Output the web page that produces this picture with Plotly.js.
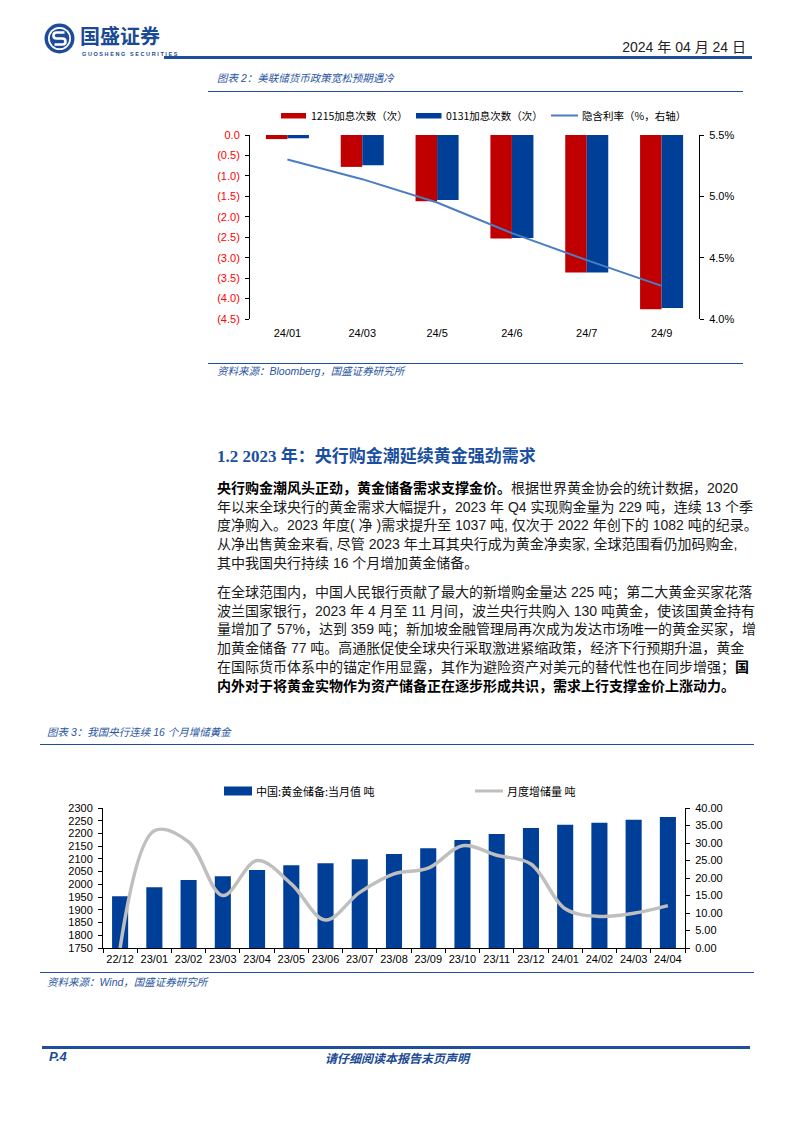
<!DOCTYPE html>
<html><head><meta charset="utf-8">
<script src="https://cdn.plot.ly/plotly-3.0.1.min.js"></script>
<style>
body{margin:0;background:#fff;}
#page{position:relative;width:794px;height:1123px;overflow:hidden;background:#fff;font-family:"Liberation Sans","Noto Sans CJK SC",sans-serif;color:#111;}
.abs{position:absolute;white-space:nowrap;}
.rule{position:absolute;background:#1F4E9A;}
.cap{position:absolute;white-space:nowrap;font-style:italic;color:#2A56A0;font-size:10.5px;line-height:12px;}
.ln{position:absolute;left:217px;width:533px;font-size:14px;line-height:18px;height:18px;white-space:nowrap;color:#1a1a1a;}
.ln b{font-weight:bold;color:#000;}
</style>
</head><body>
<div id="page">
  <!-- header -->
  <svg class="abs" style="left:44px;top:23px" width="31" height="31" viewBox="0 0 31 31">
    <circle cx="15.5" cy="15.5" r="15" fill="#1E4C9A"/>
    <circle cx="15.5" cy="15.5" r="11.5" fill="#fff"/>
    <circle cx="15.5" cy="15.5" r="9.8" fill="#1E4C9A"/>
    <path d="M20.5 9.5 H12.5 Q9.5 9.5 9.5 12.5 Q9.5 15.5 12.5 15.5 H18.5 Q21.5 15.5 21.5 18.5 Q21.5 21.5 18.5 21.5 H10.5" stroke="#fff" stroke-width="2.6" fill="none"/>
  </svg>
  <div class="abs" style="left:80px;top:26px;font-size:20px;line-height:20px;font-weight:bold;color:#1A4A94;font-family:'Noto Sans CJK SC'">国盛证券</div>
  <div class="abs" style="left:82px;top:50.5px;font-size:5.5px;line-height:6px;letter-spacing:1.6px;color:#1A4A94;font-weight:bold">GUOSHENG SECURITIES</div>
  <div class="abs" style="right:48px;top:38px;font-size:14px;line-height:18px;color:#222">2024 年 04 月 24 日</div>
  <div class="rule" style="left:164px;top:56px;width:588px;height:2.5px"></div>

  <!-- chart 2 header -->
  <div class="cap" style="left:217px;top:72px">图表 2：美联储货币政策宽松预期遇冷</div>
  <div class="rule" style="left:208px;top:90.5px;width:535px;height:1.3px"></div>
  <div id="chart1" class="abs" style="left:200px;top:95px;width:560px;height:260px"></div>
  <div class="rule" style="left:208px;top:362.5px;width:535px;height:1.3px"></div>
  <div class="cap" style="left:217px;top:365px">资料来源：Bloomberg，国盛证券研究所</div>

  <!-- section -->
  <div class="abs" style="left:217px;top:446px;font-size:17px;line-height:22px;font-weight:bold;color:#1A4FA0;font-family:'Liberation Serif','Noto Sans CJK SC'">1.2 2023 年：央行购金潮延续黄金强劲需求</div>

  <div class="ln jl" style="top:479px"><span><b>央行购金潮风头正劲，黄金储备需求支撑金价。</b>根据世界黄金协会的统计数据，2020</span></div>
  <div class="ln jl" style="top:497.7px"><span>年以来全球央行的黄金需求大幅提升，2023 年 Q4 实现购金量为 229 吨，连续 13 个季</span></div>
  <div class="ln jl" style="top:516.4px"><span>度净购入。2023 年度( 净 )需求提升至 1037 吨, 仅次于 2022 年创下的 1082 吨的纪录。</span></div>
  <div class="ln jl" style="top:535.1px"><span>从净出售黄金来看, 尽管 2023 年土耳其央行成为黄金净卖家, 全球范围看仍加码购金,</span></div>
  <div class="ln" style="top:553.8px"><span>其中我国央行持续 16 个月增加黄金储备。</span></div>

  <div class="ln jl" style="top:583px"><span>在全球范围内，中国人民银行贡献了最大的新增购金量达 225 吨；第二大黄金买家花落</span></div>
  <div class="ln jl" style="top:601.7px"><span>波兰国家银行，2023 年 4 月至 11 月间，波兰央行共购入 130 吨黄金，使该国黄金持有</span></div>
  <div class="ln jl" style="top:620.4px"><span>量增加了 57%，达到 359 吨；新加坡金融管理局再次成为发达市场唯一的黄金买家，增</span></div>
  <div class="ln jl" style="top:639.1px"><span>加黄金储备 77 吨。高通胀促使全球央行采取激进紧缩政策，经济下行预期升温，黄金</span></div>
  <div class="ln jl" style="top:657.8px"><span>在国际货币体系中的锚定作用显露，其作为避险资产对美元的替代性也在同步增强；<b>国</b></span></div>
  <div class="ln jl" style="top:676.5px"><span><b>内外对于将黄金实物作为资产储备正在逐步形成共识，需求上行支撑金价上涨动力。</b></span></div>

  <!-- chart 3 header -->
  <div class="cap" style="left:47px;top:726px">图表 3：我国央行连续 16 个月增储黄金</div>
  <div class="rule" style="left:40px;top:743.5px;width:714px;height:1.3px"></div>
  <div id="chart2" class="abs" style="left:40px;top:765px;width:714px;height:205px"></div>
  <div class="rule" style="left:40px;top:971.5px;width:714px;height:1.3px"></div>
  <div class="cap" style="left:47px;top:976px">资料来源：Wind，国盛证券研究所</div>

  <!-- footer -->
  <div class="rule" style="left:42px;top:1046px;width:708px;height:2.5px"></div>
  <div class="abs" style="left:49px;top:1049px;font-size:13px;line-height:16px;font-weight:bold;font-style:italic;color:#1A4A94">P.4</div>
  <div class="abs" style="left:0;width:794px;text-align:center;top:1050px;font-size:12px;line-height:15px;font-weight:bold;font-style:italic;color:#1A4A94;font-family:'Noto Sans CJK SC'">请仔细阅读本报告末页声明</div>
</div>
<script>
// ---------- Chart 1 data ----------
const cats1 = ['24/01','24/03','24/5','24/6','24/7','24/9'];
const hikes1215 = [-0.10,-0.78,-1.62,-2.53,-3.36,-4.26];
const hikes0131 = [-0.08,-0.74,-1.59,-2.52,-3.36,-4.23];
const impliedRate = [5.30,5.14,4.95,4.70,4.48,4.27];
const leftTickVals1 = [0,-0.5,-1,-1.5,-2,-2.5,-3,-3.5,-4,-4.5];
const leftTickText1 = ['0.0','(0.5)','(1.0)','(1.5)','(2.0)','(2.5)','(3.0)','(3.5)','(4.0)','(4.5)'];
const rightTickVals1 = [5.5,5.0,4.5,4.0];
const rightTickText1 = ['5.5%','5.0%','4.5%','4.0%'];
const legend1 = ['1215加息次数（次）','0131加息次数（次）','隐含利率（%，右轴）'];

// ---------- Chart 2 data ----------
const cats2 = ['22/12','23/01','23/02','23/03','23/04','23/05','23/06','23/07','23/08','23/09','23/10','23/11','23/12','24/01','24/02','24/03','24/04'];
const goldReserve = [1953,1989,2017,2032,2056,2075,2083,2099,2119,2142,2174,2198,2221,2234,2242,2254,2265];
const monthlyAdd = [0,33.5,30.3,15.0,25.0,18.3,8.0,15.9,21.2,22.8,29.2,26.5,24.0,11.2,9.0,9.9,12.1];
const legend2 = ['中国:黄金储备:当月值 吨','月度增储量 吨'];

const RED='#C00000', BLUE='#003F98', LBLUE='#4A7DC4', GRAY='#BFBFBF';
const latin = 'Liberation Sans, Noto Sans CJK SC, sans-serif';
const cjk = 'Noto Sans CJK SC, Liberation Sans, sans-serif';

// chart 1 plot area in page px: x 250..699, y 135..319
function p1x(X){return (X-250)/449;}
function p1y(Y){return (319-Y)/184;}
const ly1 = 115.5;
const layout1 = {
  width:560,height:260,margin:{l:50,r:61,t:40,b:36},
  paper_bgcolor:'#fff',plot_bgcolor:'#fff',showlegend:false,
  bargap:0.425,bargroupgap:0,barmode:'group',
  font:{family:latin,size:11,color:'#000'},
  xaxis:{type:'category',categoryarray:cats1,range:[-0.5,5.5],showline:false,ticks:'',showgrid:false,zeroline:false,
         tickangle:0,tickfont:{size:11,color:'#000'},ticklabelstandoff:6,fixedrange:true},
  xaxis2:{overlaying:'x',side:'top',anchor:'y',range:[-0.5,5.5],tickvals:[-0.5,0.5,1.5,2.5,3.5,4.5,5.5],
          showticklabels:false,ticks:'outside',ticklen:4,tickcolor:'#000',showline:true,linecolor:'#000',linewidth:1,showgrid:false,zeroline:false},
  yaxis:{range:[-4.5,0],tickvals:leftTickVals1,ticktext:leftTickText1,showline:true,linecolor:'#000',linewidth:1,
         ticks:'outside',ticklen:4,tickcolor:'#000',showgrid:false,zeroline:false,tickfont:{size:11,color:'#FF0000'},ticklabelstandoff:3},
  yaxis2:{overlaying:'y',side:'right',anchor:'x',range:[4.0,5.5],tickvals:rightTickVals1,ticktext:rightTickText1,
          showline:true,linecolor:'#000',linewidth:1,ticks:'outside',ticklen:4,tickcolor:'#000',showgrid:false,zeroline:false,
          tickfont:{size:11,color:'#000'},ticklabelstandoff:3},
  shapes:[
    {type:'rect',xref:'paper',yref:'paper',x0:p1x(281),x1:p1x(306),y0:p1y(113),y1:p1y(118.5),fillcolor:RED,line:{width:0}},
    {type:'rect',xref:'paper',yref:'paper',x0:p1x(416),x1:p1x(441.5),y0:p1y(113),y1:p1y(118.5),fillcolor:BLUE,line:{width:0}},
    {type:'line',xref:'paper',yref:'paper',x0:p1x(551),x1:p1x(578),y0:p1y(ly1),y1:p1y(ly1),line:{color:LBLUE,width:2}}
  ],
  annotations:[
    {xref:'paper',yref:'paper',x:p1x(309),y:p1y(ly1),xanchor:'left',yanchor:'middle',showarrow:false,text:legend1[0],font:{family:cjk,size:10.5,color:'#000'}},
    {xref:'paper',yref:'paper',x:p1x(444),y:p1y(ly1),xanchor:'left',yanchor:'middle',showarrow:false,text:legend1[1],font:{family:cjk,size:10.5,color:'#000'}},
    {xref:'paper',yref:'paper',x:p1x(580),y:p1y(ly1),xanchor:'left',yanchor:'middle',showarrow:false,text:legend1[2],font:{family:cjk,size:10.5,color:'#000'}}
  ]
};
const data1 = [
  {type:'bar',x:cats1,y:hikes1215,name:legend1[0],marker:{color:RED},xaxis:'x',yaxis:'y'},
  {type:'bar',x:cats1,y:hikes0131,name:legend1[1],marker:{color:BLUE},xaxis:'x',yaxis:'y'},
  {type:'scatter',mode:'lines',x:cats1,y:impliedRate,name:legend1[2],line:{color:LBLUE,width:2},xaxis:'x',yaxis:'y2'}
];
Plotly.newPlot('chart1',data1,layout1,{staticPlot:true,displayModeBar:false});

// chart 2 plot area in page px: x 103..685, y 808..948
function p2x(X){return (X-103)/582;}
function p2y(Y){return (948-Y)/140;}
const ly2 = 791;
const layout2 = {
  width:714,height:205,margin:{l:63,r:69,t:43,b:22},
  paper_bgcolor:'#fff',plot_bgcolor:'#fff',showlegend:false,bargap:0.53,
  font:{family:latin,size:11,color:'#000'},
  xaxis:{type:'category',categoryarray:cats2,showline:true,linecolor:'#000',linewidth:1,ticks:'outside',ticklen:4,tickcolor:'#000',
         tickson:'boundaries',tickangle:0,automargin:false,showgrid:false,zeroline:false,tickfont:{size:11,color:'#000'},ticklabelstandoff:1},
  yaxis:{range:[1750,2300],dtick:50,tick0:1750,showline:true,linecolor:'#000',linewidth:1,ticks:'outside',ticklen:4,tickcolor:'#000',
         showgrid:false,zeroline:false,tickfont:{size:11,color:'#000'},ticklabelstandoff:3},
  yaxis2:{overlaying:'y',side:'right',anchor:'x',range:[0,40],dtick:5,tick0:0,tickformat:'.2f',showline:true,linecolor:'#000',linewidth:1,
          ticks:'outside',ticklen:4,tickcolor:'#000',showgrid:false,zeroline:false,tickfont:{size:11,color:'#000'},ticklabelstandoff:3},
  shapes:[
    {type:'rect',xref:'paper',yref:'paper',x0:p2x(224),x1:p2x(252),y0:p2y(786.5),y1:p2y(795.5),fillcolor:BLUE,line:{width:0}},
    {type:'line',xref:'paper',yref:'paper',x0:p2x(475),x1:p2x(503),y0:p2y(ly2),y1:p2y(ly2),line:{color:GRAY,width:3}}
  ],
  annotations:[
    {xref:'paper',yref:'paper',x:p2x(254),y:p2y(ly2),xanchor:'left',yanchor:'middle',showarrow:false,text:legend2[0],font:{family:cjk,size:11,color:'#000'}},
    {xref:'paper',yref:'paper',x:p2x(505),y:p2y(ly2),xanchor:'left',yanchor:'middle',showarrow:false,text:legend2[1],font:{family:cjk,size:11,color:'#000'}}
  ]
};
const data2 = [
  {type:'bar',x:cats2,y:goldReserve,name:legend2[0],marker:{color:BLUE},xaxis:'x',yaxis:'y'},
  {type:'scatter',mode:'lines',x:cats2,y:monthlyAdd,name:legend2[1],line:{color:GRAY,width:3.5,shape:'spline',smoothing:1},xaxis:'x',yaxis:'y2'}
];
Plotly.newPlot('chart2',data2,layout2,{staticPlot:true,displayModeBar:false});

// justify text lines to exact width
function justify(){
  document.querySelectorAll('.jl').forEach(el=>{
    const span = el.firstElementChild;
    span.style.letterSpacing='0px';
    el.style.letterSpacing='0px';
    const w = span.getBoundingClientRect().width;
    const n = [...span.textContent].length;
    const ls = (533 - w)/(n-1);
    el.style.letterSpacing = ls+'px';
  });
}
justify();
if(document.fonts && document.fonts.ready){document.fonts.ready.then(justify);}
</script>
</body></html>
